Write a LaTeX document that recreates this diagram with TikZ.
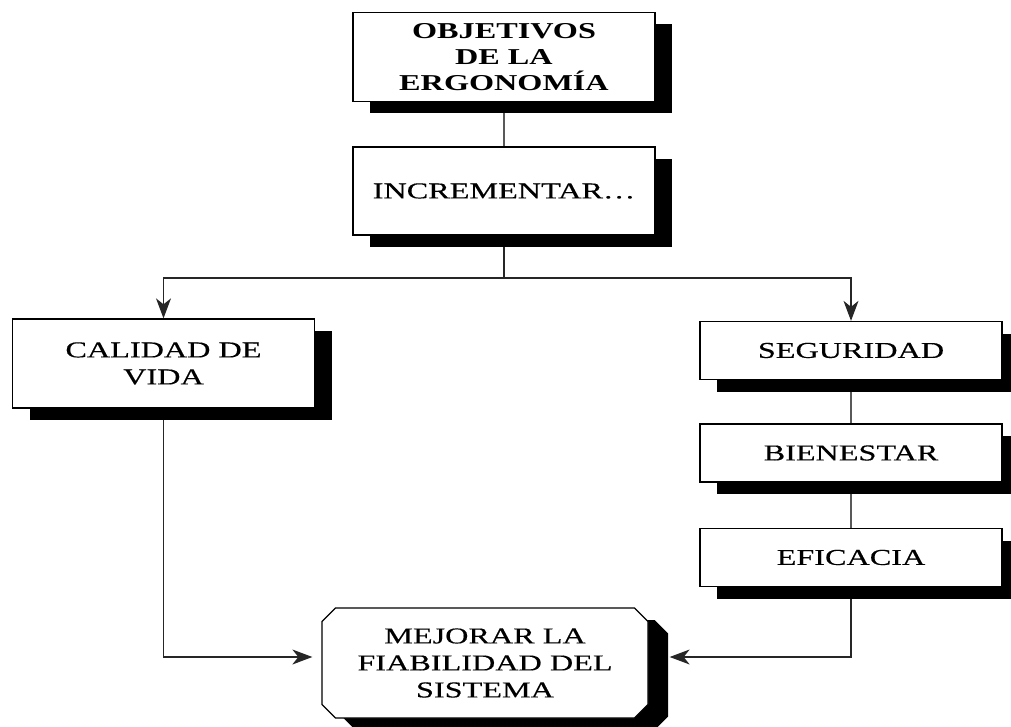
\documentclass[tikz,border=0pt]{standalone}
\usepackage{fontspec}
\setmainfont[FakeStretch=1.42]{Liberation Serif}
\newfontfamily\boxfont[FakeStretch=1.42,FakeBold=0.35]{Liberation Serif}
\usetikzlibrary{shapes.misc,shadows,arrows.meta,backgrounds}

\begin{document}
\begin{tikzpicture}[x=1pt,y=-1pt,
  basebox/.style={draw,line width=1.3pt,fill=white,inner sep=0pt,align=center,
    minimum width=302pt,minimum height=89pt,font=\boxfont\fontsize{22.7}{27}\selectfont},
  mybox/.style={basebox,drop shadow={shadow xshift=17pt,shadow yshift=-12pt,fill=black,opacity=1}},
  smallbox/.style={mybox,minimum width=302pt,minimum height=58pt},
  link/.style={gray!70!black,line width=2pt},
  myarrow/.style={black!85,line width=1.2pt,-{Stealth[length=20pt,width=15pt,inset=6pt]}}]
\useasboundingbox (0,0) rectangle (1011,727);
\clip (0,0) rectangle (1011,727);
\node [mybox,font=\rmfamily\bfseries\fontsize{22.7}{26}\selectfont] (objetivos) at (504,57) {OBJETIVOS\\DE LA\\ERGONOMÍA};
\node [mybox,minimum height=88pt] (incrementar) at (504,191) {INCREMENTAR\ldots};
\node [mybox] (calidad) at (163.5,363.5) {CALIDAD DE\\VIDA};
  \foreach \nm/\txt/\ypos in {seguridad/SEGURIDAD/350.5,bienestar/BIENESTAR/453,eficacia/EFICACIA/557.5}
  {  \node [smallbox] (\nm) at (851,\ypos) {\txt};}
\node [basebox,chamfered rectangle,chamfered rectangle xsep=7pt,chamfered rectangle ysep=6.5pt,
  minimum width=326pt,minimum height=110pt,
  drop shadow={shadow xshift=20pt,shadow yshift=-12pt,fill=black,opacity=1}] (mejorar) at (485,663) {MEJORAR LA\\FIABILIDAD DEL\\SISTEMA};
\coordinate (split) at (504,278);
\begin{scope}[on background layer]
\draw [link] (objetivos) -- (incrementar);
\draw [black!85,line width=1.2pt] (incrementar) -- (split);
\draw [myarrow] (split) -| (calidad);
\draw [myarrow] (split) -| (seguridad);
\draw [link] (seguridad) -- (bienestar);
\draw [link] (bienestar) -- (eficacia);
\draw [myarrow] (calidad) |- ([xshift=-9pt,yshift=6pt]mejorar.west);
\draw [myarrow] (eficacia) |- ([xshift=21pt,yshift=6pt]mejorar.east);
\end{scope}
\end{tikzpicture}
\end{document}
